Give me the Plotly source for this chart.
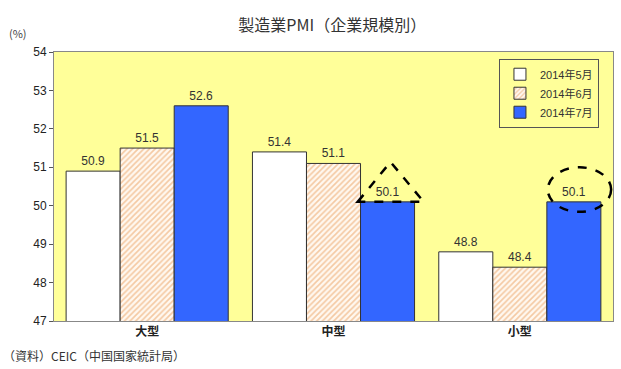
import plotly.graph_objects as go

categories = ["大型", "中型", "小型"]
may = [50.9, 51.4, 48.8]
jun = [51.5, 51.1, 48.4]
jul = [52.6, 50.1, 50.1]
series_names = ["2014年5月", "2014年6月", "2014年7月"]
y_ticks = [47, 48, 49, 50, 51, 52, 53, 54]

FONT = "Liberation Sans, Arial, Noto Sans CJK JP"
fig = go.Figure()
common = dict(textposition="outside", texttemplate="%{y:.1f}",
              textfont=dict(size=12, color="#333333", family=FONT), cliponaxis=False)
fig.add_trace(go.Bar(x=categories, y=may, name=series_names[0],
                     marker=dict(color="white", line=dict(color="#333333", width=1)), **common))
fig.add_trace(go.Bar(x=categories, y=jun, name=series_names[1],
                     marker=dict(color="white", line=dict(color="#333333", width=1),
                                 pattern=dict(shape="/", fgcolor="#E99A55", bgcolor="#FFF8F0",
                                              size=4, solidity=0.4)), **common))
fig.add_trace(go.Bar(x=categories, y=jul, name=series_names[2],
                     marker=dict(color="#3366FF", line=dict(color="#333333", width=1)), **common))

# dashed highlight shapes
fig.add_shape(type="path", xref="x", yref="y",
              path="M 1.13 50.1 L 1.306 51.14 L 1.484 50.1 Z",
              line=dict(color="black", width=2.5, dash="dash"))
fig.add_shape(type="circle", xref="x", yref="y", x0=2.15, x1=2.49, y0=49.84, y1=51.0,
              line=dict(color="black", width=2.5, dash="dash"))

fig.update_layout(
    width=621, height=369,
    margin=dict(l=54, r=8, t=52, b=48),
    paper_bgcolor="white", plot_bgcolor="#FFFF99",
    barmode="group", bargap=0.13, bargroupgap=0,
    font=dict(family=FONT, color="#333333"),
    title=dict(text="製造業PMI（企業規模別）", x=0.535, xanchor="center", y=0.93, yanchor="middle",
               font=dict(size=16, family="Noto Sans CJK JP", color="#333333")),
    showlegend=True,
    legend=dict(x=0.796, y=0.975, xanchor="left", yanchor="top",
                bgcolor="#FFFF99", bordercolor="#555555", borderwidth=1,
                font=dict(size=11, color="#333333", family=FONT), tracegroupgap=0,
                itemwidth=30),
    xaxis=dict(showgrid=False, showline=True, linecolor="#888888", mirror=True,
               ticks="", tickfont=dict(size=12, family="Noto Sans CJK JP", color="#222222",
                                       weight="bold")),
    yaxis=dict(range=[47, 54], tickvals=y_ticks, showgrid=False, showline=True,
               linecolor="#888888", mirror=True, ticks="outside", ticklen=4, tickcolor="#555555",
               tickfont=dict(size=12, color="#222222", family=FONT), zeroline=False),
)
fig.add_annotation(text="(%)", xref="paper", yref="paper", x=-0.065, y=1.07, xanchor="center",
                   yanchor="middle", showarrow=False, font=dict(size=11, color="#444444", family="Noto Sans CJK JP"))
fig.add_annotation(text="（資料）CEIC（中国国家統計局）", xref="paper", yref="paper", x=-0.095, y=-0.13,
                   xanchor="left", yanchor="middle", showarrow=False,
                   font=dict(size=12, color="#333333", family="Noto Sans CJK JP"))

fig.write_html("out.html")
